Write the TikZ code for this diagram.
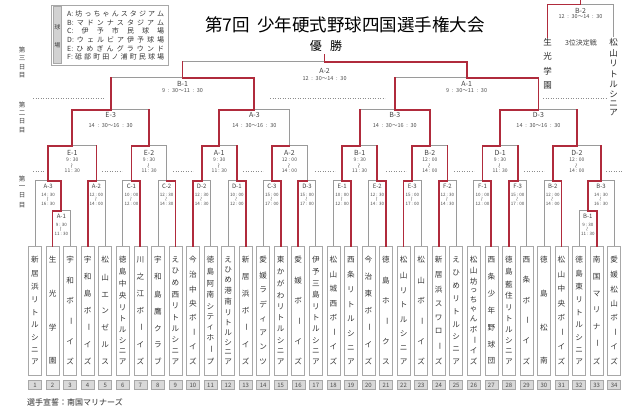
\documentclass[tikz,border=0pt]{standalone}
\usepackage{fontspec}
\setmainfont{Noto Sans CJK JP}
\usetikzlibrary{positioning,calc}

\definecolor{wred}{HTML}{B02B3C}
\definecolor{lgray}{HTML}{9A9A9A}
\definecolor{boxgray}{HTML}{A8A8A8}
\definecolor{numgray}{HTML}{D9D9D9}
\definecolor{cellgray}{HTML}{D2D2D2}

\newcommand{\chouon}{\rotatebox[origin=c]{-90}{ー}}
\newcommand{\nami}{\rotatebox[origin=c]{90}{～}}
\newcommand{\tate}[2]{\vbox to #1{\offinterlineskip\foreach \ch [count=\kk] in #2 {\ifnum\kk>1 \vfil\fi\hbox to 1em{\hss\ch\hss}}}}
\newcommand{\yoko}[2]{\hbox to #1{\foreach \ch [count=\kk] in #2 {\ifnum\kk>1 \hfil\fi\ch}}}

\begin{document}
\begin{tikzpicture}[x=1pt,y=-1pt,
  tline/.style={draw=lgray, line width=0.7pt},
  wline/.style={draw=wred, line width=1.8pt, line cap=rect},
  team/.style={draw=boxgray, line width=0.6pt, minimum width=13pt, minimum height=129pt, inner sep=0pt, text=black!80, font=\fontsize{7.6}{7.6}\selectfont},
  numbox/.style={draw=boxgray, fill=numgray, line width=0.5pt, minimum width=13pt, minimum height=9pt, inner sep=0pt, text=black!70, font=\fontsize{6}{6}\selectfont},
  glabel/.style={inner sep=0pt, text=black!75, font=\fontsize{6}{6}\selectfont},
  gtime/.style={inner sep=0pt, align=center, text=black!70, font=\fontsize{4.5}{4.6}\selectfont},
  dots/.style={draw=black!45, dotted, line width=0.5pt}]
\useasboundingbox (0,0) rectangle (640,414);

% title
\node[font=\fontsize{17.5}{17.5}\selectfont] (title) at (345,25) {第7回\hspace{0.4em}少年硬式野球四国選手権大会};
\node[font=\fontsize{12}{12}\selectfont] (yusho) at (326,46) {優\hspace{0.7em}勝};

% venues
\draw[boxgray, line width=0.6pt] (51.7,5) rectangle (168.3,65);
\draw[boxgray, fill=cellgray, line width=0.5pt] (53.2,6.5) rectangle (61.7,63.5);
\node[inner sep=0pt, text=black!75, font=\fontsize{6}{6}\selectfont] (vlab) at (57.45,36.5) {\tate{23pt}{{球,場}}};
\foreach \yy/\row [count=\rr] in {14/{A:,坊,っ,ち,ゃ,ん,ス,タ,ジ,ア,ム}, 22.7/{B:,マ,ド,ン,ナ,ス,タ,ジ,ア,ム}, 31.3/{C:,伊,予,市,民,球,場}, 40/{D:,ウ,ェ,ル,ビ,ア,伊,予,球,場}, 48.7/{E:,ひ,め,ぎ,ん,グ,ラ,ウ,ン,ド}, 57.3/{F:,砥,部,町,田,ノ,浦,町,民,球,場}}
  \node[anchor=west, inner sep=0pt, text=black!80, font=\fontsize{7}{7}\selectfont] (v\rr) at (67,\yy) {\yoko{97pt}{\row}};

% days
\foreach \yy/\dn [count=\rr] in {62.5/三, 117.5/二, 192/一}
  \node[inner sep=0pt, text=black!75, font=\fontsize{6.5}{6.5}\selectfont] (day\rr) at (22,\yy) {\tate{31pt}{{第,\dn,日,目}}};
\foreach \xa/\xb in {33/105, 270/385, 543/607}
  \draw[dots] (\xa,98) -- (\xb,98);
\foreach \xa/\xb in {33/45, 102/122, 173/193, 243/263, 315/335, 386/406, 454/474, 524/544, 606/622}
  \draw[dots] (\xa,171) -- (\xb,171);

% teams
\foreach \tn/\nm in {1/{新,居,浜,リ,ト,ル,シ,ニ,ア}, 2/{生,光,学,園}, 3/{宇,和,ボ,\chouon,イ,ズ}, 4/{宇,和,島,ボ,\chouon,イ,ズ}, 5/{松,山,エ,ン,ゼ,ル,ス}, 6/{徳,島,中,央,リ,ト,ル,シ,ニ,ア}, 7/{川,之,江,ボ,\chouon,イ,ズ}, 8/{宇,和,島,鷹,ク,ラ,ブ}, 9/{え,ひ,め,西,リ,ト,ル,シ,ニ,ア}, 10/{今,治,中,央,ボ,\chouon,イ,ズ}, 11/{徳,島,阿,南,シ,テ,ィ,ホ,\chouon,プ}, 12/{え,ひ,め,港,南,リ,ト,ル,シ,ニ,ア}, 13/{新,居,浜,ボ,\chouon,イ,ズ}, 14/{愛,媛,ラ,デ,ィ,ア,ン,ツ}, 15/{東,か,が,わ,リ,ト,ル,シ,ニ,ア}, 16/{愛,媛,ボ,\chouon,イ,ズ}, 17/{伊,予,三,島,リ,ト,ル,シ,ニ,ア}, 18/{松,山,城,西,ボ,\chouon,イ,ズ}, 19/{西,条,リ,ト,ル,シ,ニ,ア}, 20/{今,治,東,ボ,\chouon,イ,ズ}, 21/{徳,島,ホ,\chouon,ク,ス}, 22/{松,山,リ,ト,ル,シ,ニ,ア}, 23/{松,山,ボ,\chouon,イ,ズ}, 24/{新,居,浜,ス,ワ,ロ,\chouon,ズ}, 25/{え,ひ,め,リ,ト,ル,シ,ニ,ア}, 26/{松,山,坊,っ,ち,ゃ,ん,ボ,\chouon,イ,ズ}, 27/{西,条,少,年,野,球,団}, 28/{徳,島,藍,住,リ,ト,ル,シ,ニ,ア}, 29/{西,条,ボ,\chouon,イ,ズ}, 30/{徳,島,松,南}, 31/{松,山,中,央,ボ,\chouon,イ,ズ}, 32/{徳,島,東,リ,ト,ル,シ,ニ,ア}, 33/{南,国,マ,リ,ナ,\chouon,ズ}, 34/{愛,媛,松,山,ボ,\chouon,イ,ズ}} {
  \node[team] (t\tn) at ({35+(\tn-1)*17.55},310.5) {\tate{107.6pt}{\nm}};
  \node[numbox, below=5pt of t\tn] (n\tn) {\tn};
}
\node[anchor=west, inner sep=0pt, text=black!85, font=\fontsize{8}{8}\selectfont] (oath) at (27,402) {選手宣誓：南国マリナーズ};

% 3rd place
\node[inner sep=1pt, text=black!85, font=\fontsize{8.5}{8.5}\selectfont] (k1) at (547.5,63.85) {\tate{50.8pt}{{生,光,学,園}}};
\node[inner sep=1pt, text=black!85, font=\fontsize{8.5}{8.5}\selectfont] (k2) at (613.5,77.2) {\tate{77.5pt}{{松,山,リ,ト,ル,シ,ニ,ア}}};
\coordinate (sB2) at ($(k1.north)!.5!(k2.north)+(0,-32.5)$);
\coordinate (bronze) at ($(sB2)+(0,-5)$);

% games
\coordinate (pA1) at ($(t2.north)!.5!(t3.north)+(0,-35)$);
\coordinate (pB1) at ($(t32.north)!.5!(t33.north)+(0,-35)$);
\coordinate (pA3) at ($(t1.north)!.5!(pA1)+(0,-47.5)$);
\coordinate (pB3) at ($(pB1)!.5!(t34.north)+(0,-47.5)$);
\foreach \mt/\ca/\cb in {pA2/t4/t5, pC1/t6/t7, pC2/t8/t9, pD2/t10/t11, pD1/t12/t13, pC3/t14/t15, pD3/t16/t17, pE1/t18/t19, pE2/t20/t21, pE3/t22/t23, pF2/t24/t25, pF1/t26/t27, pF3/t28/t29, pB2/t30/t31}
  \coordinate (\mt) at ($(\ca.north)!.5!(\cb.north)+(0,-65)$);
\foreach \mt/\ca/\cb in {qE1/pA3/pA2, qE2/pC1/pC2, qA1/pD2/pD1, qA2/pC3/pD3, qB1/pE1/pE2, qB2/pE3/pF2, qD1/pF1/pF3, qD2/pB2/pB3}
  \coordinate (\mt) at ($(\ca)!.5!(\cb)+(0,-35)$);
\foreach \mt/\ca/\cb in {rE3/qE1/qE2, rA3/qA1/qA2, rB3/qB1/qB2, rD3/qD1/qD2}
  \coordinate (\mt) at ($(\ca)!.5!(\cb)+(0,-36)$);
\coordinate (sB1) at ($(rE3)!.5!(rA3)+(0,-32)$);
\coordinate (sA1) at ($(rB3)!.5!(rD3)+(0,-32)$);
\coordinate (sA2) at ($(sB1)!.5!(sA1)+(0,-16)$);
\coordinate (champ) at ($(sA2)+(0,-7)$);

% lines
\foreach \mt/\ca/\cb in {pA1/t2.north/t3.north, pA3/t1.north/pA1, pA2/t4.north/t5.north, pC1/t6.north/t7.north, pC2/t8.north/t9.north, pD2/t10.north/t11.north, pD1/t12.north/t13.north, pC3/t14.north/t15.north, pD3/t16.north/t17.north, pE1/t18.north/t19.north, pE2/t20.north/t21.north, pE3/t22.north/t23.north, pF2/t24.north/t25.north, pF1/t26.north/t27.north, pF3/t28.north/t29.north, pB2/t30.north/t31.north, pB1/t32.north/t33.north, pB3/pB1/t34.north, qE1/pA3/pA2, qE2/pC1/pC2, qA1/pD2/pD1, qA2/pC3/pD3, qB1/pE1/pE2, qB2/pE3/pF2, qD1/pF1/pF3, qD2/pB2/pB3, rE3/qE1/qE2, rA3/qA1/qA2, rB3/qB1/qB2, rD3/qD1/qD2, sB1/rE3/rA3, sA1/rB3/rD3, sA2/sB1/sA1, sB2/k1.north/k2.north}
  \draw[tline] (\ca) |- (\mt) -| (\cb);

% winners
\foreach \ca/\mt in {t2.north/pA1, pA1/pA3, t4.north/pA2, t7.north/pC1, t9.north/pC2, t10.north/pD2, t13.north/pD1, t15.north/pC3, t16.north/pD3, t19.north/pE1, t21.north/pE2, t22.north/pE3, t24.north/pF2, t27.north/pF1, t28.north/pF3, t31.north/pB2, t33.north/pB1, pB1/pB3, pA3/qE1, pC1/qE2, pD2/qA1, pC3/qA2, pE1/qB1, pE3/qB2, pF1/qD1, pB2/qD2, qE1/rE3, qA1/rA3, qB2/rB3, qD1/rD3, rA3/sB1, rD3/sA1, sA1/sA2, k1.north/sB2}
  \draw[wline] (\ca) |- (\mt);
\foreach \ca/\mt in {pA2/qE1, pD1/qA1, pE2/qB1, pF2/qB2, pF3/qD1, pB3/qD2, qE2/rE3, qB1/rB3, qD2/rD3, rE3/sB1, rB3/sA1, sB1/sA2}
  \draw[wline] (\ca) -- (\ca |- \mt);
\draw[wline] (sA2) -- (champ);
\draw[wline] (sB2) -- (bronze);

% game labels
\foreach \mt/\gl/\ta/\tb in {pA3/A-3/14 : 30/16 : 30, pA1/A-1/9 : 30/11 : 30, pA2/A-2/12 : 00/14 : 00, pC1/C-1/10 : 00/12 : 00, pC2/C-2/12 : 30/14 : 30, pD2/D-2/12 : 30/14 : 30, pD1/D-1/10 : 00/12 : 00, pC3/C-3/15 : 00/17 : 00, pD3/D-3/15 : 00/17 : 00, pE1/E-1/10 : 00/12 : 00, pE2/E-2/12 : 30/14 : 30, pE3/E-3/15 : 00/17 : 00, pF2/F-2/12 : 30/14 : 30, pF1/F-1/10 : 00/12 : 00, pF3/F-3/15 : 00/17 : 00, pB2/B-2/12 : 00/14 : 00, pB3/B-3/14 : 30/16 : 30, pB1/B-1/9 : 30/11 : 30} {
  \node[glabel] (l\mt) at ($(\mt)+(0,6)$) {\gl};
  \node[gtime] (h\mt) at ($(\mt)+(0,18.5)$) {\ta\\\nami\\\tb};
}
\foreach \mt/\gl/\ta/\tb in {qE1/E-1/9 : 30/11 : 30, qE2/E-2/9 : 30/11 : 30, qA1/A-1/9 : 30/11 : 30, qA2/A-2/12 : 00/14 : 00, qB1/B-1/9 : 30/11 : 30, qB2/B-2/12 : 00/14 : 00, qD1/D-1/9 : 30/11 : 30, qD2/D-2/12 : 00/14 : 00} {
  \node[glabel, font=\fontsize{7}{7}\selectfont] (l\mt) at ($(\mt)+(0,7)$) {\gl};
  \node[gtime, font=\fontsize{5}{5.5}\selectfont] (h\mt) at ($(\mt)+(0,19.5)$) {\ta\\\nami\\\tb};
}
\foreach \mt/\gl/\dy/\dz/\ta in {rE3/E-3/5.5/16/14\enspace:\enspace30～16\enspace:\enspace30, rA3/A-3/5.5/16/14\enspace:\enspace30～16\enspace:\enspace30, rB3/B-3/5.5/16/14\enspace:\enspace30～16\enspace:\enspace30, rD3/D-3/5.5/16/14\enspace:\enspace30～16\enspace:\enspace30, sB1/B-1/6/12.7/9\enspace:\enspace30～11\enspace:\enspace30, sA1/A-1/6/12.7/9\enspace:\enspace30～11\enspace:\enspace30, sA2/A-2/9.7/17.3/12\enspace:\enspace30～14\enspace:\enspace30, sB2/B-2/6.7/12.3/12\enspace:\enspace30～14\enspace:\enspace30} {
  \node[glabel, font=\fontsize{7}{7}\selectfont] (l\mt) at ($(\mt)+(0,\dy)$) {\gl};
  \node[gtime, font=\fontsize{5.5}{5.5}\selectfont] (h\mt) at ($(\mt)+(0,\dz)$) {\ta};
}
\node[glabel, font=\fontsize{7}{7}\selectfont] (third) at (581,42.7) {3位決定戦};
\end{tikzpicture}
\end{document}
